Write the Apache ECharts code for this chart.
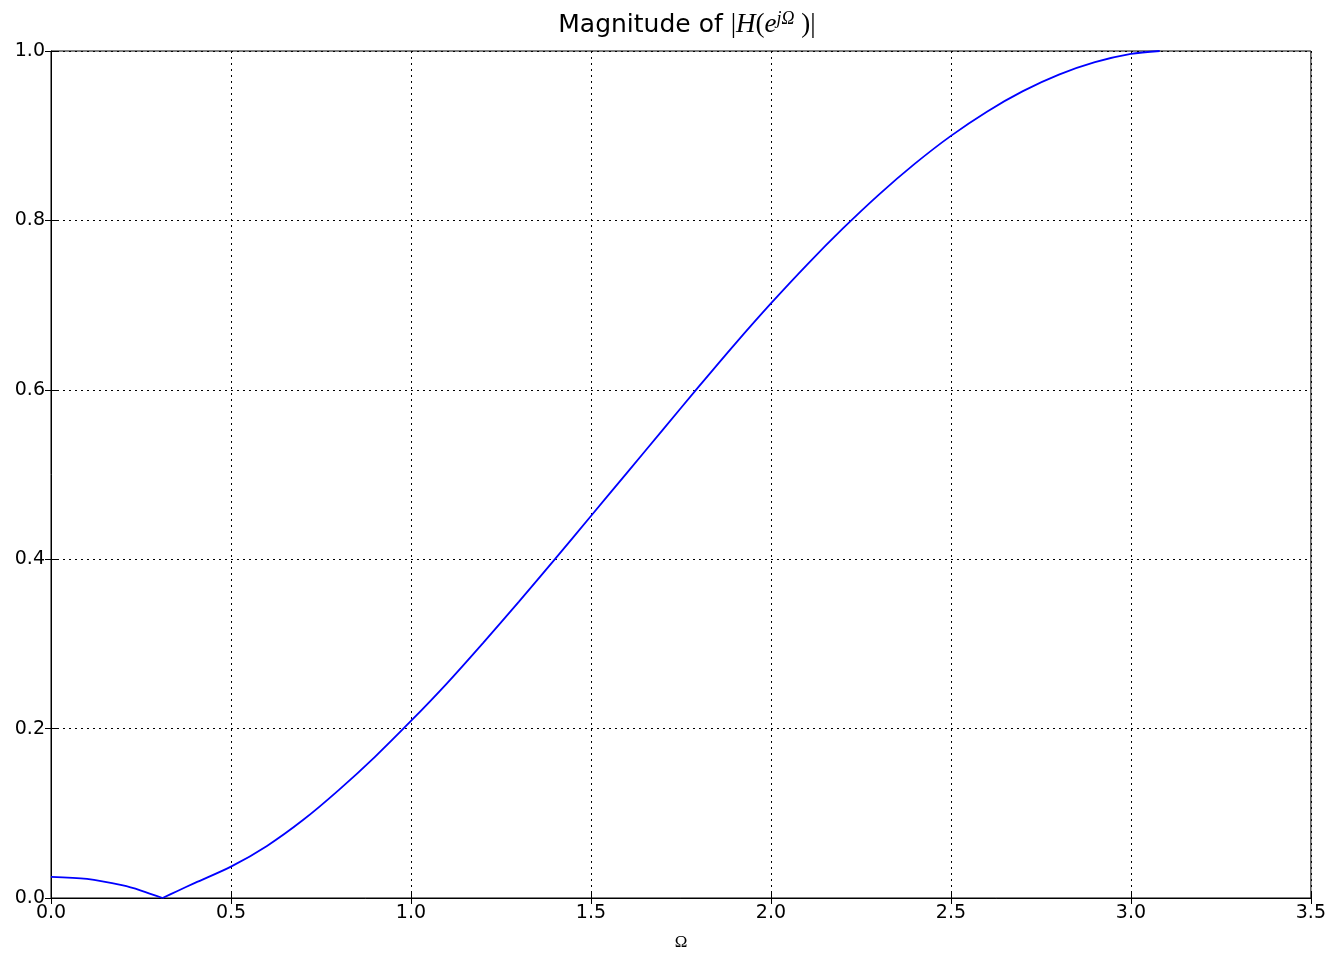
<!DOCTYPE html>
<html>
<head>
<meta charset="utf-8">
<script src="https://cdn.jsdelivr.net/npm/echarts@6/dist/echarts.min.js"></script>
<style>
html,body{margin:0;padding:0;background:#fff;overflow:hidden;}
#chart{width:1329px;height:956px;}
</style>
</head>
<body>
<div id="chart"></div>
<script>
// Frequency Ω (rad/sample) and magnitude |H(e^{jΩ})|
var omega = [0.00, 0.10, 0.20, 0.25, 0.31, 0.35, 0.40, 0.50, 0.60, 0.70, 0.80, 0.90,
             1.00, 1.10, 1.20, 1.30, 1.40, 1.50, 1.60, 1.70, 1.80, 1.90,
             2.00, 2.10, 2.20, 2.30, 2.40, 2.50, 2.60, 2.70, 2.80, 2.90, 3.00, 3.08];
var magnitude = [0.025, 0.0225, 0.0148, 0.0088, 0.000, 0.008, 0.0178, 0.037, 0.0615, 0.092, 0.1277, 0.1667,
                 0.209, 0.2535, 0.301, 0.350, 0.400, 0.451, 0.502, 0.553, 0.604, 0.654,
                 0.702, 0.7476, 0.7905, 0.8305, 0.867, 0.8998, 0.9284, 0.9526, 0.9721, 0.9868, 0.9965, 1.000];
var xTicks = [0.0, 0.5, 1.0, 1.5, 2.0, 2.5, 3.0, 3.5];
var yTicks = [0.0, 0.2, 0.4, 0.6, 0.8, 1.0];

var pts = omega.map(function (w, i) { return [w, magnitude[i]]; });
// split at the notch (zero) so the sharp V stays sharp while the rest is smoothed
var zeroIdx = magnitude.indexOf(0);
var partA = pts.slice(0, zeroIdx + 1);
var partB = pts.slice(zeroIdx);

var sans = 'DejaVu Sans';
var serif = 'Liberation Serif';

var chart = echarts.init(document.getElementById('chart'), null, {renderer: 'canvas'});
var tickStyle = {show: true, inside: true, length: 6, lineStyle: {color: '#000', width: 1}};
var lineStyle = {color: '#0000ff', width: 1.8};
chart.setOption({
  backgroundColor: '#ffffff',
  animation: false,
  title: {
    text: '{a|Magnitude of }{r||}{m|H}{r|(}{m|e}{s|jΩ}{r| )|}',
    left: 682,
    textAlign: 'center',
    top: 5,
    textStyle: {
      fontWeight: 'normal',
      rich: {
        a: {fontFamily: sans, fontSize: 25, color: '#000', fontWeight: 'normal'},
        r: {fontFamily: serif, fontSize: 27, color: '#000', fontWeight: 'normal'},
        m: {fontFamily: serif, fontStyle: 'italic', fontSize: 27, color: '#000', fontWeight: 'normal'},
        s: {fontFamily: serif, fontStyle: 'italic', fontSize: 18, color: '#000', fontWeight: 'normal', verticalAlign: 'top', padding: [0, 0, 12, 0]}
      }
    }
  },
  grid: {left: 51, right: 17, top: 51, bottom: 53, show: true, borderColor: '#000', borderWidth: 1, containLabel: false},
  xAxis: [{
    type: 'value', min: 0, max: 3.5, interval: 0.5,
    name: 'Ω', nameLocation: 'middle', nameGap: 36,
    nameTextStyle: {fontFamily: serif, fontSize: 17, color: '#000'},
    axisLine: {show: true, lineStyle: {color: '#000'}},
    axisTick: tickStyle,
    axisLabel: {fontFamily: sans, fontSize: 19, color: '#000', margin: 6,
      formatter: function (v) { return v.toFixed(1); }},
    splitLine: {show: true, lineStyle: {color: '#000', type: [2, 4], width: 1}}
  }, {
    type: 'value', min: 0, max: 3.5, interval: 0.5, position: 'top',
    axisLine: {show: false}, axisTick: tickStyle, axisLabel: {show: false}, splitLine: {show: false}
  }],
  yAxis: [{
    type: 'value', min: 0, max: 1.0, interval: 0.2,
    axisLine: {show: true, lineStyle: {color: '#000'}},
    axisTick: tickStyle,
    axisLabel: {fontFamily: sans, fontSize: 19, color: '#000', margin: 6,
      formatter: function (v) { return v.toFixed(1); }},
    splitLine: {show: true, lineStyle: {color: '#000', type: [2, 4], width: 1}}
  }, {
    type: 'value', min: 0, max: 1.0, interval: 0.2, position: 'right',
    axisLine: {show: false}, axisTick: tickStyle, axisLabel: {show: false}, splitLine: {show: false}
  }],
  series: [{
    type: 'line', data: partA, xAxisIndex: 0, yAxisIndex: 0,
    showSymbol: false, smooth: 0.3, lineStyle: lineStyle
  }, {
    type: 'line', data: partB, xAxisIndex: 0, yAxisIndex: 0,
    showSymbol: false, smooth: 0.3, lineStyle: lineStyle
  }]
});
</script>
</body>
</html>
